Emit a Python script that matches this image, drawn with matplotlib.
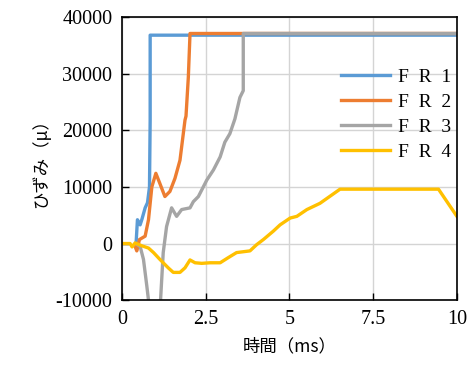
"""
Strain vs time for four FR gauges.
"""
import numpy as np
import matplotlib
matplotlib.use("Agg")
import matplotlib.pyplot as plt

# values (time in ms, strain in micro)
fr1_t = [0.0, 0.42, 0.46, 0.54, 0.59, 0.69, 0.76, 0.82, 0.84, 0.84, 10.0]
fr1_y = [np.nan, 100, 4200, 3300, 4200, 6300, 7200, 10000, 21800, 36800, 36800]

fr2_t = [0.39, 0.44, 0.52, 0.69, 0.79, 0.89, 1.01, 1.13, 1.28, 1.43, 1.58,
         1.73, 1.88, 1.91, 1.98, 2.03, 10.0]
fr2_y = [-500, -1300, 700, 1300, 4200, 10000, 12400, 10600, 8300, 9200, 11500,
         14700, 21800, 22500, 29400, 37100, 37100]

fr3_t = [0.40, 0.54, 0.64, 0.74, 0.79, 0.85, 1.10, 1.15, 1.23, 1.33, 1.48,
         1.63, 1.78, 2.03, 2.13, 2.28, 2.53, 2.73, 2.93, 3.07, 3.22, 3.37,
         3.52, 3.62, 3.62, 10.0]
fr3_y = [0, -500, -2800, -7500, -10000, -12000, -12000, -10000, -1600, 3000, 6300,
         4800, 6000, 6300, 7400, 8300, 11200, 13000, 15300, 17900, 19400, 22000,
         25800, 27000, 37100, 37100]

fr4_t = [0.0, 0.24, 0.30, 0.39, 0.59, 0.79, 0.94, 1.13, 1.38, 1.53, 1.73, 1.88,
         2.03, 2.18, 2.38, 2.63, 2.93, 3.17, 3.42, 3.82, 4.02, 4.22, 4.52, 4.72,
         5.02, 5.22, 5.52, 5.91, 6.51, 9.45, 10.0]
fr4_y = [0, 0, -600, 100, -400, -800, -1600, -2800, -4300, -5100, -5100, -4300,
         -2900, -3400, -3500, -3400, -3400, -2500, -1600, -1300, -200, 700, 2200,
         3300, 4500, 4800, 6000, 7100, 9600, 9600, 4800]

labels = ["F  R  1", "F  R  2", "F  R  3", "F  R  4"]
colors = ["#5B9BD5", "#ED7D31", "#A5A5A5", "#FFC000"]

x_ticks = [0, 2.5, 5, 7.5, 10]
x_tick_labels = ["0", "2.5", "5", "7.5", "10"]
y_ticks = [-10000, 0, 10000, 20000, 30000, 40000]
y_tick_labels = ["-10000", "0", "10000", "20000", "30000", "40000"]

serif = ["Liberation Serif", "Noto Sans CJK JP"]
cjk = ["Noto Sans CJK JP", "DejaVu Sans"]

fig = plt.figure(figsize=(4.73, 3.71), dpi=100)
ax = fig.add_axes([0.258, 0.191, 0.708, 0.763])

series = [(fr1_t, fr1_y), (fr2_t, fr2_y), (fr3_t, fr3_y), (fr4_t, fr4_y)]
for (t, y), lab, c in zip(series, labels, colors):
    ax.plot(t, y, color=c, linewidth=2.4, label=lab, solid_joinstyle="round")

ax.set_xlim(0, 10)
ax.set_ylim(-10000, 40000)
ax.set_xticks(x_ticks)
ax.set_xticklabels(x_tick_labels, fontfamily=serif, fontsize=14.5)
ax.set_yticks(y_ticks)
ax.set_yticklabels(y_tick_labels, fontfamily=serif, fontsize=14.5)
ax.grid(True, color="#d4d4d4", linewidth=1.0)
ax.set_axisbelow(True)
ax.tick_params(direction="in", length=5, width=1, top=False, right=False, pad=7)
for s in ax.spines.values():
    s.set_linewidth(1.2)

ax.set_xlabel("時間（ms）", fontfamily=cjk, fontsize=12.5, labelpad=6)
ax.set_ylabel("ひずみ（μ）", fontfamily=cjk, fontsize=12.5, labelpad=4)

leg = ax.legend(
    loc="upper left",
    bbox_to_anchor=(0.654, 0.82),
    frameon=False,
    borderpad=0,
    borderaxespad=0,
    handlelength=2.5,
    handletextpad=0.45,
    labelspacing=0.38,
    prop={"family": serif, "size": 14},
)

fig.savefig("out.png", dpi=100)
